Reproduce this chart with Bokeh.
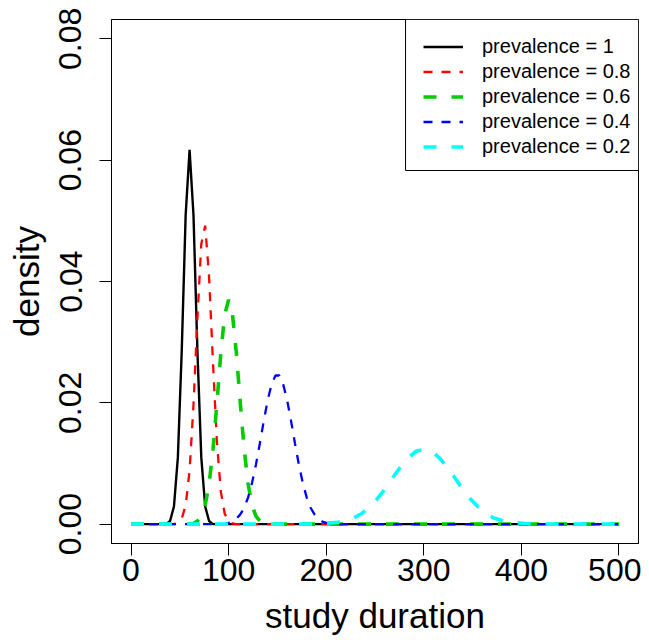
from bokeh.plotting import figure
from bokeh.models import (Range1d, FixedTicker, NumeralTickFormatter, Legend,
                          LegendItem, BoxAnnotation)
from bokeh.embed import file_html
from bokeh.resources import INLINE

# ---- data ----
x_ticks = [0, 100, 200, 300, 400, 500]
y_ticks = [0.0, 0.02, 0.04, 0.06, 0.08]

labels = ["prevalence = 1", "prevalence = 0.8", "prevalence = 0.6",
          "prevalence = 0.4", "prevalence = 0.2"]

dur_p100 = [0, 36, 40, 44, 48, 52, 56, 60, 64, 68, 72, 76, 80, 84, 500]
den_p100 = [0, 0.0, 0.0005, 0.0029, 0.0110, 0.0287, 0.0510, 0.0617, 0.0510,
            0.0287, 0.0110, 0.0029, 0.0005, 0.0, 0]

dur_p80 = [0, 44, 48, 52, 56, 60, 64, 68, 72, 76, 80, 84, 88, 92, 96, 100, 104, 108, 500]
den_p80 = [0, 0.0, 0.0002, 0.0009, 0.0031, 0.0088, 0.0196, 0.0339, 0.0462, 0.0492,
           0.0407, 0.0266, 0.0136, 0.0054, 0.0017, 0.0004, 0.0001, 0.0, 0]

dur_p60 = [0, 60, 64, 68, 72, 76, 80, 84, 88, 92, 96, 100, 104, 108, 112, 116,
           120, 124, 128, 132, 136, 140, 144, 500]
den_p60 = [0, 0.0, 0.0001, 0.0005, 0.0013, 0.0031, 0.0066, 0.0123, 0.0199, 0.0281,
           0.0345, 0.0370, 0.0345, 0.0281, 0.0199, 0.0123, 0.0066, 0.0031, 0.0013,
           0.0005, 0.0001, 0.0, 0.0, 0]

dur_p40 = [0, 96, 100, 104, 108, 112, 116, 120, 124, 128, 132, 136, 140, 144, 148,
           152, 156, 160, 164, 168, 172, 176, 180, 184, 188, 192, 196, 200, 204, 208, 500]
den_p40 = [0, 0.0, 0.0002, 0.0004, 0.0009, 0.0016, 0.0027, 0.0044, 0.0068, 0.0098,
           0.0133, 0.0170, 0.0204, 0.0230, 0.0245, 0.0245, 0.0230, 0.0204, 0.0170,
           0.0133, 0.0098, 0.0068, 0.0044, 0.0027, 0.0016, 0.0009, 0.0004, 0.0002,
           0.0001, 0.0, 0]

dur_p20 = [0, 188, 196, 204, 212, 220, 228, 236, 244, 252, 260, 268, 276, 284, 292,
           300, 308, 316, 324, 332, 340, 348, 356, 364, 372, 380, 388, 396, 404, 412, 500]
den_p20 = [0, 0.0, 0.0001, 0.0002, 0.0003, 0.0006, 0.0010, 0.0017, 0.0028, 0.0041,
           0.0057, 0.0076, 0.0094, 0.0109, 0.0120, 0.0123, 0.0120, 0.0109, 0.0094,
           0.0076, 0.0057, 0.0041, 0.0028, 0.0017, 0.0010, 0.0006, 0.0003, 0.0002,
           0.0001, 0.0, 0]

FONT = "Liberation Sans"

p = figure(frame_width=527, frame_height=524, output_backend="svg",
           toolbar_location=None,
           x_range=Range1d(-20, 520), y_range=Range1d(-0.0032, 0.0832),
           min_border_left=111, min_border_right=3, min_border_top=19,
           min_border_bottom=96, background_fill_color="white",
           border_fill_color="white")

p.xgrid.visible = False
p.ygrid.visible = False
p.outline_line_color = "black"
p.outline_line_width = 1
p.outline_line_alpha = 1

r1 = p.line(dur_p100, den_p100, line_color="black", line_width=2.4)
r2 = p.line(dur_p80, den_p80, line_color="#FF0000", line_width=2.3, line_dash="9 9")
r3 = p.line(dur_p60, den_p60, line_color="#00CD00", line_width=3.6, line_dash="13 15")
r4 = p.line(dur_p40, den_p40, line_color="#0000FF", line_width=2.3, line_dash="9 9")
r5 = p.line(dur_p20, den_p20, line_color="#00FFFF", line_width=3.6, line_dash="13 15")

for ax in (p.xaxis[0], p.yaxis[0]):
    ax.axis_line_color = "black"
    ax.axis_line_width = 1
    ax.major_tick_line_color = "black"
    ax.major_tick_line_width = 1
    ax.major_tick_in = 0
    ax.major_tick_out = 12
    ax.minor_tick_line_color = None
    ax.major_label_text_font = FONT
    ax.major_label_text_font_size = "32px"
    ax.major_label_text_color = "black"
    ax.axis_label_text_font = FONT
    ax.axis_label_text_font_size = "35px"
    ax.axis_label_text_font_style = "normal"
    ax.axis_label_text_color = "black"

p.xaxis[0].ticker = FixedTicker(ticks=x_ticks)
p.xaxis[0].axis_label = "study duration"
p.xaxis[0].major_label_standoff = 3
p.xaxis[0].axis_label_standoff = 12

p.yaxis[0].ticker = FixedTicker(ticks=y_ticks)
p.yaxis[0].formatter = NumeralTickFormatter(format="0.00")
p.yaxis[0].axis_label = "density"
p.yaxis[0].major_label_orientation = "vertical"
p.yaxis[0].major_label_standoff = 18
p.yaxis[0].axis_label_standoff = 11

# legend frame (top-right corner of the plot region)
legend_box = BoxAnnotation(left=281.3, bottom=0.0583, fill_color="white",
                           fill_alpha=1, line_color="black", line_width=1,
                           line_alpha=1)
p.add_layout(legend_box)

legend = Legend(items=[LegendItem(label=labels[0], renderers=[r1]),
                       LegendItem(label=labels[1], renderers=[r2]),
                       LegendItem(label=labels[2], renderers=[r3]),
                       LegendItem(label=labels[3], renderers=[r4]),
                       LegendItem(label=labels[4], renderers=[r5])],
                location=(312, 384))
legend.margin = 0
legend.padding = 6
legend.spacing = 0
legend.label_standoff = 19
legend.glyph_width = 40
legend.glyph_height = 25
legend.label_height = 25
legend.label_text_font = FONT
legend.label_text_font_size = "20px"
legend.label_text_color = "black"
legend.border_line_color = None
legend.background_fill_alpha = 0
p.add_layout(legend)

open("out.html", "w").write(file_html(p, INLINE))
